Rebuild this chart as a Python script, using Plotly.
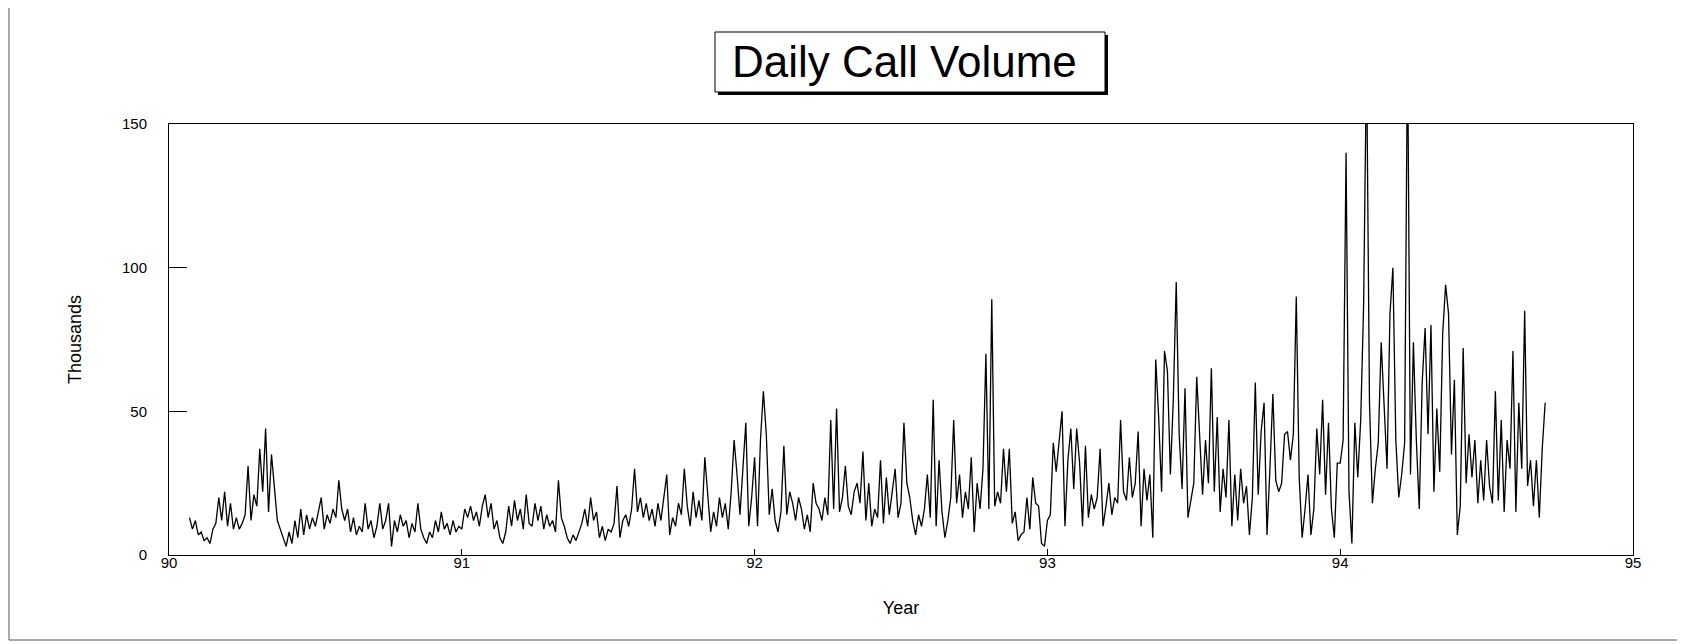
import numpy as np
import plotly.graph_objects as go

# Daily call volume (thousands) at steps of 0.01 year
START_90 = 90.07
vol_90 = [13, 9, 12, 7, 8, 5, 6, 4, 9, 11, 20, 12, 22, 10, 18, 9, 13, 9, 11, 14,
          31, 12, 21, 17, 37, 22, 44, 15, 35, 22, 12, 9, 6, 3, 8, 4, 12, 6, 16, 7,
          14, 9, 13, 10, 15, 20, 9, 14, 11, 16, 13, 26, 16, 12, 16, 8, 13, 7, 10, 8,
          18, 9, 12, 6, 10, 18, 9, 12, 18, 3, 12, 8, 14, 10, 12, 6, 11, 8, 18, 9,
          6, 4, 8, 6, 12, 8, 15, 9, 11, 7, 12, 8, 10]
vol_91 = [9, 16, 13, 17, 12, 15, 10, 17, 21, 13, 18, 9, 12, 6, 4, 8, 17, 10, 19, 12,
          16, 9, 21, 11, 10, 18, 12, 17, 9, 14, 10, 12, 8, 26, 13, 10, 6, 4, 7, 5,
          8, 11, 16, 10, 20, 12, 15, 6, 10, 5, 9, 8, 11, 24, 6, 12, 14, 10, 16, 30,
          15, 20, 13, 18, 12, 16, 10, 18, 12, 21, 28, 7, 13, 10, 18, 14, 30, 17, 10, 22,
          13, 19, 12, 34, 20, 8, 15, 10, 20, 13, 18, 9, 22, 40, 28, 14, 30, 46, 10, 20]
vol_92 = [34, 10, 40, 57, 42, 14, 23, 12, 8, 15, 38, 14, 22, 18, 12, 20, 16, 9, 14, 8,
          25, 18, 16, 12, 20, 14, 47, 16, 51, 15, 20, 31, 17, 14, 22, 25, 18, 36, 12, 25,
          10, 16, 13, 33, 11, 27, 14, 22, 30, 13, 18, 46, 25, 20, 12, 7, 14, 10, 16, 28,
          13, 54, 10, 33, 15, 6, 12, 20, 47, 18, 28, 13, 22, 16, 34, 8, 25, 16, 30, 70,
          16, 89, 17, 22, 18, 37, 22, 37, 11, 15, 5, 7, 8, 20, 9, 27, 18, 17, 4, 3]
vol_93 = [12, 14, 39, 29, 41, 50, 10, 33, 44, 23, 44, 32, 10, 38, 13, 21, 16, 20, 37, 10,
          17, 25, 14, 20, 18, 47, 22, 19, 34, 20, 25, 43, 10, 30, 19, 28, 6, 68, 48, 22,
          71, 64, 28, 54, 95, 42, 23, 58, 13, 19, 25, 62, 41, 21, 40, 25, 65, 22, 48, 15,
          30, 20, 47, 10, 28, 12, 30, 18, 24, 7, 20, 60, 21, 43, 53, 7, 30, 56, 26, 22,
          25, 42, 43, 33, 42, 90, 27, 6, 16, 28, 7, 16, 44, 28, 54, 21, 46, 16, 6, 32]
vol_94 = [32, 40, 140, 22, 4, 46, 27, 47, 87, 175, 53, 18, 30, 39, 74, 50, 30, 84, 100, 40,
          20, 28, 39, 180, 28, 74, 40, 16, 60, 79, 42, 80, 22, 51, 29, 77, 94, 84, 35, 61,
          7, 17, 72, 25, 42, 27, 40, 18, 33, 19, 40, 24, 18, 57, 19, 47, 15, 40, 30, 71,
          15, 53, 30, 85, 24, 33, 17, 33, 13, 37, 53]

YEAR_TICKS = [90, 91, 92, 93, 94, 95]
VOL_TICKS = [0, 50, 100, 150]
STEP = 0.01

volumes = vol_90 + vol_91 + vol_92 + vol_93 + vol_94
years = START_90 + STEP * np.arange(len(volumes))

# page body keeps an 8px margin, so the figure is drawn 8px in from the corner
OFF = 8
W, H = 1685 - OFF, 644 - OFF
L, R, T, B = 169, 52, 124, 89      # plot edges in window pixels
PW, PH = 1685 - L - R, 644 - T - B
FONT = "Liberation Sans, Arial, sans-serif"


def px(x):
    return (x - L) / PW


def py(y):
    return (644 - B - y) / PH


fig = go.Figure()
fig.add_trace(
    go.Scatter(
        x=years,
        y=volumes,
        mode="lines",
        line={"color": "black", "width": 1.3},
        hoverinfo="skip",
        showlegend=False,
    )
)

shapes = [
    # outer page frame
    dict(type="rect", xref="paper", yref="paper",
         x0=px(9), x1=px(1680), y0=py(640), y1=py(4),
         line={"color": "#555", "width": 1}),
    # title box shadow + box
    dict(type="rect", xref="paper", yref="paper",
         x0=px(718), x1=px(1108), y0=py(95), y1=py(35),
         fillcolor="black", line={"width": 0}),
    dict(type="rect", xref="paper", yref="paper",
         x0=px(715), x1=px(1105), y0=py(92), y1=py(32),
         fillcolor="white", line={"color": "black", "width": 1}),
]

fig.update_layout(
    width=W,
    height=H,
    margin={"l": L - OFF, "r": R, "t": T - OFF, "b": B},
    paper_bgcolor="white",
    plot_bgcolor="white",
    font={"family": FONT, "color": "black", "size": 15},
    shapes=shapes,
    annotations=[
        dict(text="Daily Call Volume", xref="paper", yref="paper",
             x=px(904), y=py(62), xanchor="center", yanchor="middle",
             showarrow=False, font={"size": 44, "family": FONT}),
    ],
    xaxis={
        "range": [90, 95],
        "tickvals": YEAR_TICKS,
        "ticktext": [str(t) for t in YEAR_TICKS],
        "ticks": "inside",
        "ticklen": 6,
        "tickcolor": "black",
        "ticklabelstandoff": -6,
        "showline": True,
        "linecolor": "black",
        "linewidth": 1,
        "mirror": True,
        "showgrid": False,
        "zeroline": False,
        "title": {"text": "Year", "standoff": 31},
    },
    yaxis={
        "range": [0, 150],
        "tickvals": VOL_TICKS,
        "ticks": "inside",
        "ticklen": 18,
        "tickcolor": "black",
        "ticklabelstandoff": 18,
        "showline": True,
        "linecolor": "black",
        "linewidth": 1,
        "mirror": True,
        "showgrid": False,
        "zeroline": False,
        "title": {"text": "Thousands", "standoff": 35},
    },
)

fig.write_html("out.html")
